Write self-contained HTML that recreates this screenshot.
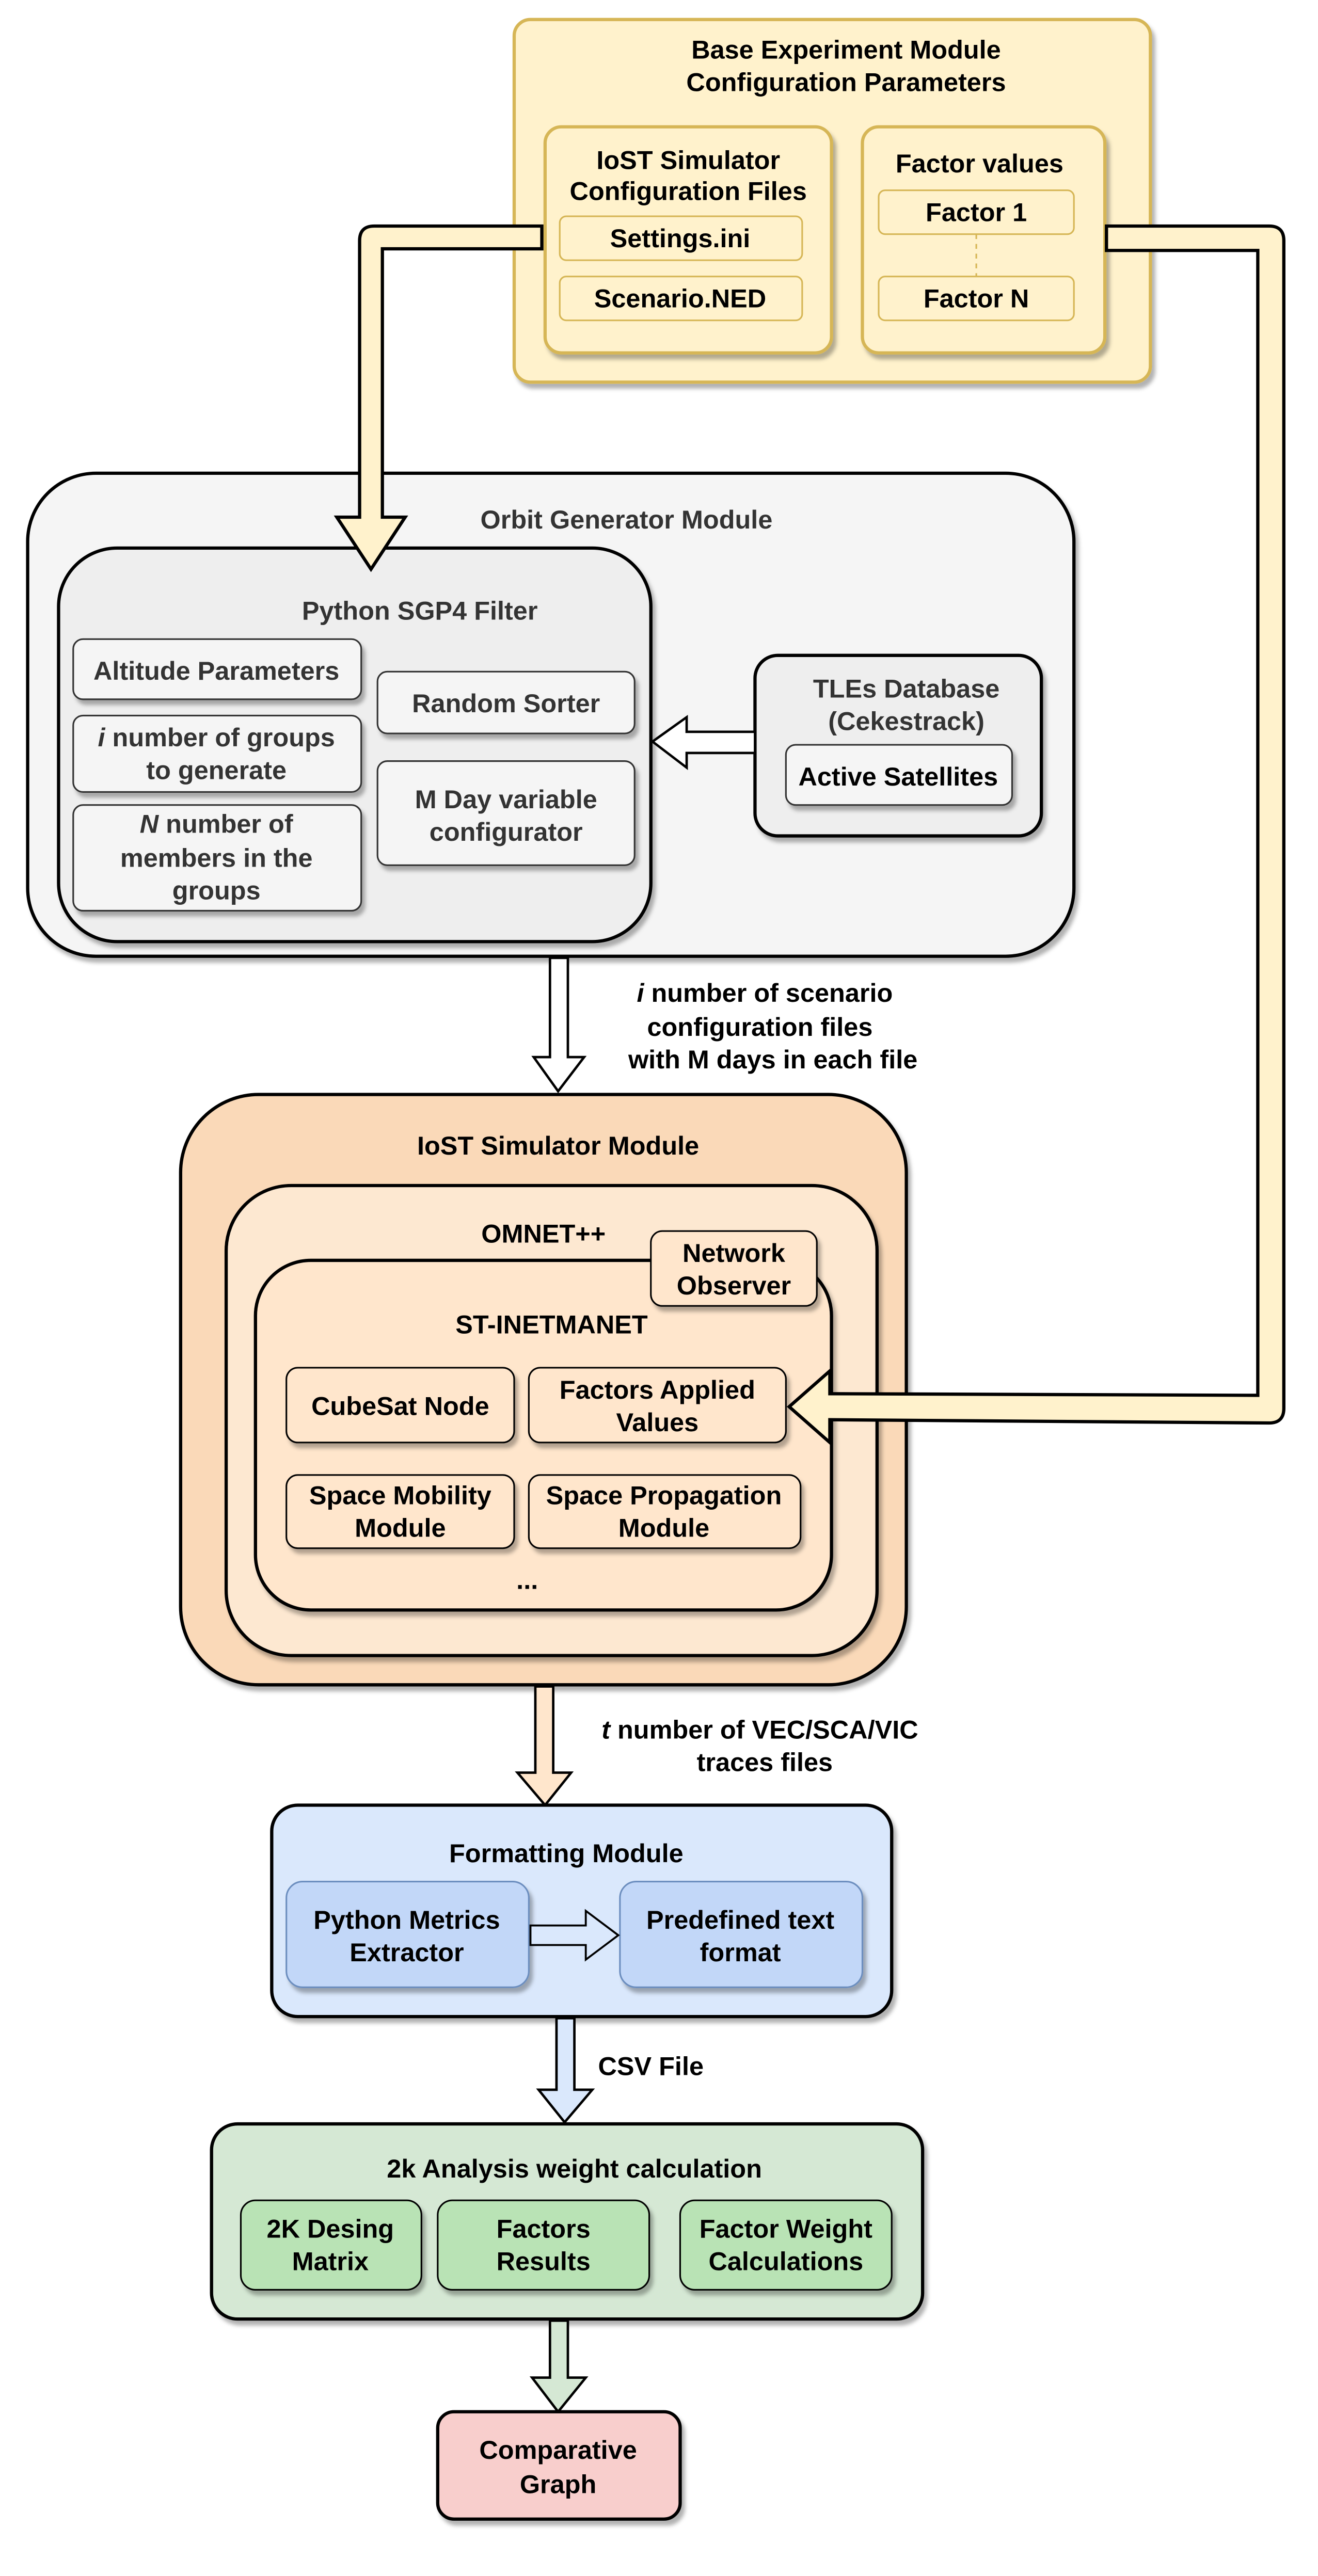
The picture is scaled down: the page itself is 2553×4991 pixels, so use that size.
<!DOCTYPE html>
<html><head><meta charset="utf-8"><style>
html,body{margin:0;padding:0;background:#fff}
svg{display:block}
text{font-family:"Liberation Sans","DejaVu Sans",sans-serif;font-weight:bold;font-size:16px;fill:#000;text-anchor:middle}
</style></head><body>
<svg width="2553" height="4991" viewBox="0 0 810 1584" preserveAspectRatio="none" xmlns="http://www.w3.org/2000/svg">
<defs><filter id="sh" x="-10%" y="-10%" width="130%" height="130%"><feDropShadow dx="2" dy="3" stdDeviation="1.2" flood-color="#000" flood-opacity="0.3"/></filter></defs>

<!-- Base experiment -->
<rect x="316" y="12" width="391" height="223" rx="10" fill="#fff2cc" stroke="#d6b656" stroke-width="2" filter="url(#sh)"/>
<text x="520" y="36">Base Experiment Module</text>
<text x="520" y="56">Configuration Parameters</text>
<rect x="335" y="78" width="176" height="139" rx="10" fill="#fff2cc" stroke="#d6b656" stroke-width="2" filter="url(#sh)"/>
<text x="423" y="104">IoST Simulator</text>
<text x="423" y="123">Configuration Files</text>
<rect x="344" y="133" width="149" height="27" rx="4" fill="#fff2cc" stroke="#d6b656"/>
<text x="418" y="152">Settings.ini</text>
<rect x="344" y="170" width="149" height="27" rx="4" fill="#fff2cc" stroke="#d6b656"/>
<text x="418" y="189">Scenario.NED</text>
<rect x="530" y="78" width="149" height="139" rx="10" fill="#fff2cc" stroke="#d6b656" stroke-width="2" filter="url(#sh)"/>
<text x="602" y="106">Factor values</text>
<rect x="540" y="117" width="120" height="27" rx="4" fill="#fff2cc" stroke="#d6b656"/>
<text x="600" y="136">Factor 1</text>
<line x1="600" y1="144" x2="600" y2="170" stroke="#d6b656" stroke-dasharray="3,3"/>
<rect x="540" y="170" width="120" height="27" rx="4" fill="#fff2cc" stroke="#d6b656"/>
<text x="600" y="189">Factor N</text>

<!-- Orbit generator -->
<rect x="17" y="291" width="643" height="297" rx="42" fill="#f5f5f5" stroke="#000" stroke-width="2" filter="url(#sh)"/>
<text x="385" y="325" style="fill:#333">Orbit Generator Module</text>
<rect x="36" y="337" width="364" height="242" rx="36" fill="#eeeeee" stroke="#000" stroke-width="2" filter="url(#sh)"/>
<text x="258" y="381" style="fill:#333">Python SGP4 Filter</text>
<g fill="#f5f5f5" stroke="#333" filter="url(#sh)">
<rect x="45" y="393" width="177" height="37" rx="6"/>
<rect x="45" y="440" width="177" height="47" rx="6"/>
<rect x="45" y="495" width="177" height="65" rx="6"/>
<rect x="232" y="413" width="158" height="38" rx="6"/>
<rect x="232" y="468" width="158" height="64" rx="6"/>
</g>
<text x="133" y="418" style="fill:#333">Altitude Parameters</text>
<text x="133" y="459" style="fill:#333"><tspan font-style="italic">i</tspan> number of groups</text>
<text x="133" y="479" style="fill:#333">to generate</text>
<text x="133" y="512" style="fill:#333"><tspan font-style="italic">N</tspan> number of</text>
<text x="133" y="533" style="fill:#333">members in the</text>
<text x="133" y="553" style="fill:#333">groups</text>
<text x="311" y="438" style="fill:#333">Random Sorter</text>
<text x="311" y="497" style="fill:#333">M Day variable</text>
<text x="311" y="517" style="fill:#333">configurator</text>
<rect x="464" y="403" width="176" height="111" rx="14" fill="#eeeeee" stroke="#000" stroke-width="2" filter="url(#sh)"/>
<text x="557" y="429" style="fill:#333">TLEs Database</text>
<text x="557" y="449" style="fill:#333">(Cekestrack)</text>
<rect x="483" y="458" width="139" height="37" rx="6" fill="#f5f5f5" stroke="#333" filter="url(#sh)"/>
<text x="552" y="483">Active Satellites</text>
<path d="M464,450 L422,450 L422,441 L401,456 L422,472 L422,463 L464,463 Z" fill="#fff" stroke="#000" stroke-width="1.5"/>

<!-- yellow arrow left -->
<path d="M333,139 L230,139 Q221,139 221,148 L221,318 L207,318 L228,350 L249,318 L235,318 L235,153 L333,153 Z" fill="#fff2cc" stroke="#000" stroke-width="2"/>

<!-- arrow orbit -> iost -->
<path d="M338,589 L349,589 L349,650 L359,650 L343,671 L328,650 L338,650 Z" fill="#fff" stroke="#000" stroke-width="1.5"/>
<text x="470" y="616"><tspan font-style="italic">i</tspan> number of scenario</text>
<text x="467" y="637">configuration files</text>
<text x="475" y="657">with  M days in each file</text>

<!-- IoST simulator -->
<rect x="111" y="673" width="446" height="363" rx="48" fill="#fad9b8" stroke="#000" stroke-width="2" filter="url(#sh)"/>
<text x="343" y="710">IoST Simulator Module</text>
<rect x="139" y="729" width="400" height="289" rx="40" fill="#fde8d1" stroke="#000" stroke-width="2" filter="url(#sh)"/>
<text x="334" y="764">OMNET++</text>
<rect x="157" y="775" width="354" height="215" rx="34" fill="#ffe6cc" stroke="#000" stroke-width="2" filter="url(#sh)"/>
<rect x="400" y="757" width="102" height="46" rx="7" fill="#ffe6cc" stroke="#000" filter="url(#sh)"/>
<text x="451" y="776">Network</text>
<text x="451" y="796">Observer</text>
<text x="339" y="820">ST-INETMANET</text>
<g fill="#ffe6cc" stroke="#000" filter="url(#sh)">
<rect x="176" y="841" width="140" height="46" rx="7"/>
<rect x="325" y="841" width="158" height="46" rx="7"/>
<rect x="176" y="907" width="140" height="45" rx="7"/>
<rect x="325" y="907" width="167" height="45" rx="7"/>
</g>
<text x="246" y="870">CubeSat Node</text>
<text x="404" y="860">Factors Applied</text>
<text x="404" y="880">Values</text>
<text x="246" y="925">Space Mobility</text>
<text x="246" y="945">Module</text>
<text x="408" y="925">Space Propagation</text>
<text x="408" y="945">Module</text>
<text x="324" y="977">...</text>

<!-- yellow arrow right (on top) -->
<path d="M680,139 L780,139 Q789,139 789,148 L789,866 Q789,875 780,875 L510,873 L510,887 L485,865 L510,843 L510,857 L773,858 L773,154 L680,154 Z" fill="#fff2cc" stroke="#000" stroke-width="2"/>

<!-- arrow iost -> formatting -->
<path d="M329,1037 L340,1037 L340,1090 L351,1090 L335,1110 L318,1090 L329,1090 Z" fill="#ffe6cc" stroke="#000" stroke-width="1.5"/>
<text x="467" y="1069"><tspan font-style="italic">t</tspan> number  of VEC/SCA/VIC</text>
<text x="470" y="1089">traces files</text>

<!-- formatting -->
<rect x="167" y="1110" width="381" height="130" rx="16" fill="#dae8fc" stroke="#000" stroke-width="2" filter="url(#sh)"/>
<text x="348" y="1145">Formatting Module</text>
<rect x="176" y="1157" width="149" height="65" rx="10" fill="#c2d7f8" stroke="#6c8ebf" filter="url(#sh)"/>
<text x="250" y="1186">Python Metrics</text>
<text x="250" y="1206">Extractor</text>
<rect x="381" y="1157" width="149" height="65" rx="10" fill="#c2d7f8" stroke="#6c8ebf" filter="url(#sh)"/>
<text x="455" y="1186">Predefined text</text>
<text x="455" y="1206">format</text>
<path d="M326,1184 L360,1184 L360,1175 L380,1190 L360,1205 L360,1196 L326,1196 Z" fill="#dae8fc" stroke="#000" stroke-width="1.2"/>

<path d="M342,1241 L353,1241 L353,1285 L364,1285 L347,1305 L331,1285 L342,1285 Z" fill="#dae8fc" stroke="#000" stroke-width="1.5"/>
<text x="400" y="1276">CSV File</text>

<!-- 2k analysis -->
<rect x="130" y="1306" width="437" height="120" rx="16" fill="#d5e8d4" stroke="#000" stroke-width="2" filter="url(#sh)"/>
<text x="353" y="1339">2k Analysis weight calculation</text>
<g fill="#b9e3b5" stroke="#000" filter="url(#sh)">
<rect x="148" y="1353" width="111" height="55" rx="9"/>
<rect x="269" y="1353" width="130" height="55" rx="9"/>
<rect x="418" y="1353" width="130" height="55" rx="9"/>
</g>
<text x="203" y="1376">2K Desing</text>
<text x="203" y="1396">Matrix</text>
<text x="334" y="1376">Factors</text>
<text x="334" y="1396">Results</text>
<text x="483" y="1376">Factor Weight</text>
<text x="483" y="1396">Calculations</text>

<path d="M338,1427 L349,1427 L349,1462 L360,1462 L343,1483 L327,1462 L338,1462 Z" fill="#d5e8d4" stroke="#000" stroke-width="1.5"/>

<rect x="269" y="1483" width="149" height="66" rx="10" fill="#f8cecc" stroke="#000" stroke-width="2" filter="url(#sh)"/>
<text x="343" y="1512">Comparative</text>
<text x="343" y="1533">Graph</text>
</svg>
</body></html>
